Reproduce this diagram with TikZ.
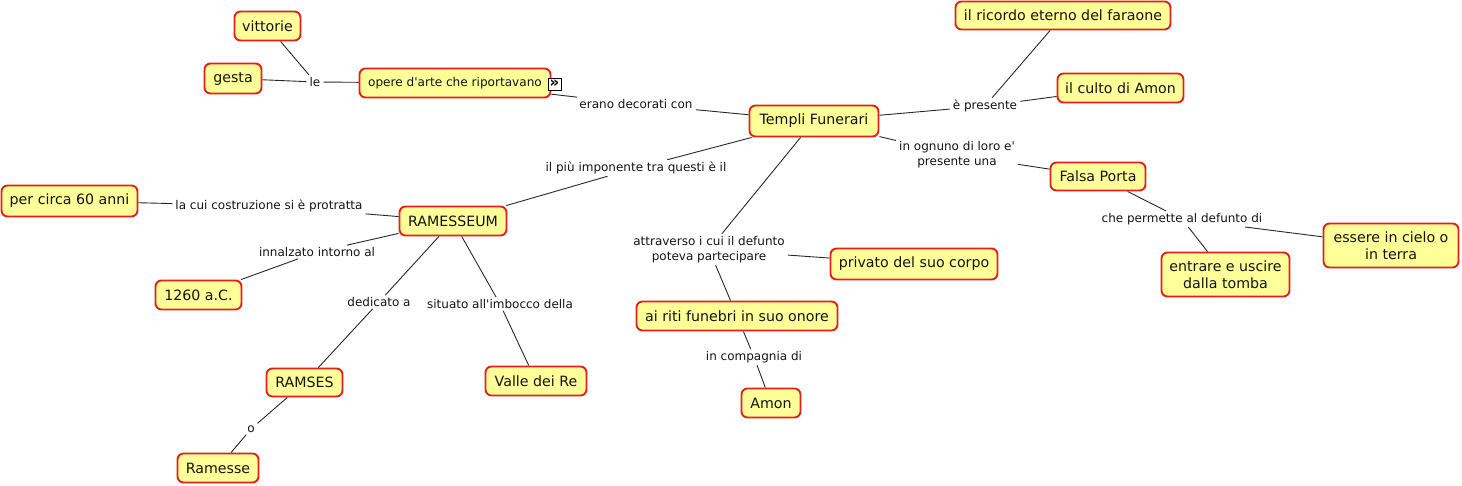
\documentclass[tikz,border=0pt]{standalone}
\usepackage{fontspec}
\setmainfont{DejaVu Sans}[Ligatures=TeXOff]
\definecolor{cfill}{RGB}{255,255,153}
\definecolor{cborder}{RGB}{226,32,26}
\definecolor{ctext}{RGB}{20,20,20}
\definecolor{cline}{RGB}{40,40,40}
\tikzset{
  concept/.style={draw=cborder, fill=cfill, line width=1.9pt, rounded corners=6pt,
    inner sep=0pt, align=center, text=ctext, font=\fontsize{14.2}{16.8}\selectfont},
  linkph/.style={inner xsep=3pt, inner ysep=2pt, align=center, text=ctext,
    font=\fontsize{12}{15.2}\selectfont},
  conn/.style={draw=cline, line width=0.9pt},
  iconbox/.style={draw=black, fill=white, line width=0.7pt, inner sep=0pt,
    minimum width=13pt, minimum height=12pt, font=\fontsize{15}{15}\selectfont\bfseries}
}
\begin{document}
\begin{tikzpicture}[x=1pt,y=-1pt]
\useasboundingbox (0,0) rectangle (1462,485);
% concepts
\node[concept, minimum width=66pt, minimum height=29pt] (vittorie) at (267.5,26) {vittorie};
\node[concept, minimum width=57pt, minimum height=30pt] (gesta) at (233,78.5) {gesta};
\node[concept, minimum width=191pt, minimum height=29pt, font=\fontsize{12.1}{14}\selectfont] (opere) at (455,83) {opere d'arte che riportavano};
\node[concept, minimum width=129pt, minimum height=31pt] (templi) at (814,121) {Templi Funerari};
\node[concept, minimum width=215pt, minimum height=28pt] (ricordo) at (1063,15.5) {il ricordo eterno del faraone};
\node[concept, minimum width=126pt, minimum height=29pt] (culto) at (1120.5,88) {il culto di Amon};
\node[concept, minimum width=95pt, minimum height=28pt] (falsa) at (1098,176.5) {Falsa Porta};
\node[concept, minimum width=128pt, minimum height=44pt] (entrare) at (1225.5,274.5) {entrare e uscire\\dalla tomba};
\node[concept, minimum width=135pt, minimum height=44pt] (essere) at (1391,245.5) {essere in cielo o\\in terra};
\node[concept, minimum width=107pt, minimum height=29pt] (rames) at (453,221) {RAMESSEUM};
\node[concept, minimum width=136pt, minimum height=31pt] (circa) at (69.5,201) {per circa 60 anni};
\node[concept, minimum width=86pt, minimum height=29pt] (anno) at (198.5,295) {1260 a.C.};
\node[concept, minimum width=76pt, minimum height=28pt] (ramses) at (304.5,382.5) {RAMSES};
\node[concept, minimum width=81pt, minimum height=29pt] (ramesse) at (218,468) {Ramesse};
\node[concept, minimum width=101pt, minimum height=29pt] (valle) at (536,381) {Valle dei Re};
\node[concept, minimum width=167pt, minimum height=31pt] (privato) at (914,264) {privato del suo corpo};
\node[concept, minimum width=201pt, minimum height=29pt] (riti) at (737,316) {ai riti funebri in suo onore};
\node[concept, minimum width=59pt, minimum height=29pt] (amon) at (771,403) {Amon};
% linking phrases
\node[linkph] (le) at (315,82) {le};
\node[linkph] (erano) at (636,104) {erano decorati con};
\node[linkph] (epres) at (985,106) {è presente};
\node[linkph] (ognuno) at (957,155) {in ognuno di loro e'\\presente una};
\node[linkph] (permette) at (1182,219) {che permette al defunto di};
\node[linkph] (piu) at (636,168) {il più imponente tra questi è il};
\node[linkph] (lacui) at (269,206) {la cui costruzione si è protratta};
\node[linkph] (innalz) at (317,252) {innalzato intorno al};
\node[linkph] (dedic) at (379,302) {dedicato a};
\node[linkph] (situato) at (500,304) {situato all'imbocco della};
\node[linkph] (o) at (251,429) {o};
\node[linkph] (attrav) at (709,249.5) {attraverso i cui il defunto\\poteva partecipare};
\node[linkph] (compagnia) at (754,357) {in compagnia di};
% connectors
\draw[conn] (le) -- (vittorie);
\draw[conn] (le) -- (gesta);
\draw[conn] (opere) -- (le);
\draw[conn] (opere) -- (erano);
\draw[conn] (erano) -- (templi);
\draw[conn] (templi) -- (epres);
\draw[conn] (epres) -- (ricordo);
\draw[conn] (epres) -- (culto);
\draw[conn] (templi) -- (ognuno);
\draw[conn] (ognuno) -- (falsa);
\draw[conn] (falsa) -- (permette);
\draw[conn] (permette) -- (entrare);
\draw[conn] (permette) -- (essere);
\draw[conn] (templi) -- (piu);
\draw[conn] (piu) -- (rames);
\draw[conn] (templi) -- (attrav);
\draw[conn] (attrav) -- (privato);
\draw[conn] (attrav) -- (riti);
\draw[conn] (riti) -- (compagnia);
\draw[conn] (compagnia) -- (amon);
\draw[conn] (rames) -- (lacui);
\draw[conn] (lacui) -- (circa);
\draw[conn] (rames) -- (innalz);
\draw[conn] (innalz) -- (anno);
\draw[conn] (rames) -- (dedic);
\draw[conn] (dedic) -- (ramses);
\draw[conn] (ramses) -- (o);
\draw[conn] (o) -- (ramesse);
\draw[conn] (rames) -- (situato);
\draw[conn] (situato) -- (valle);
% icon
\node[iconbox] (icon) at (554.5,84) {»};
\end{tikzpicture}
\end{document}
